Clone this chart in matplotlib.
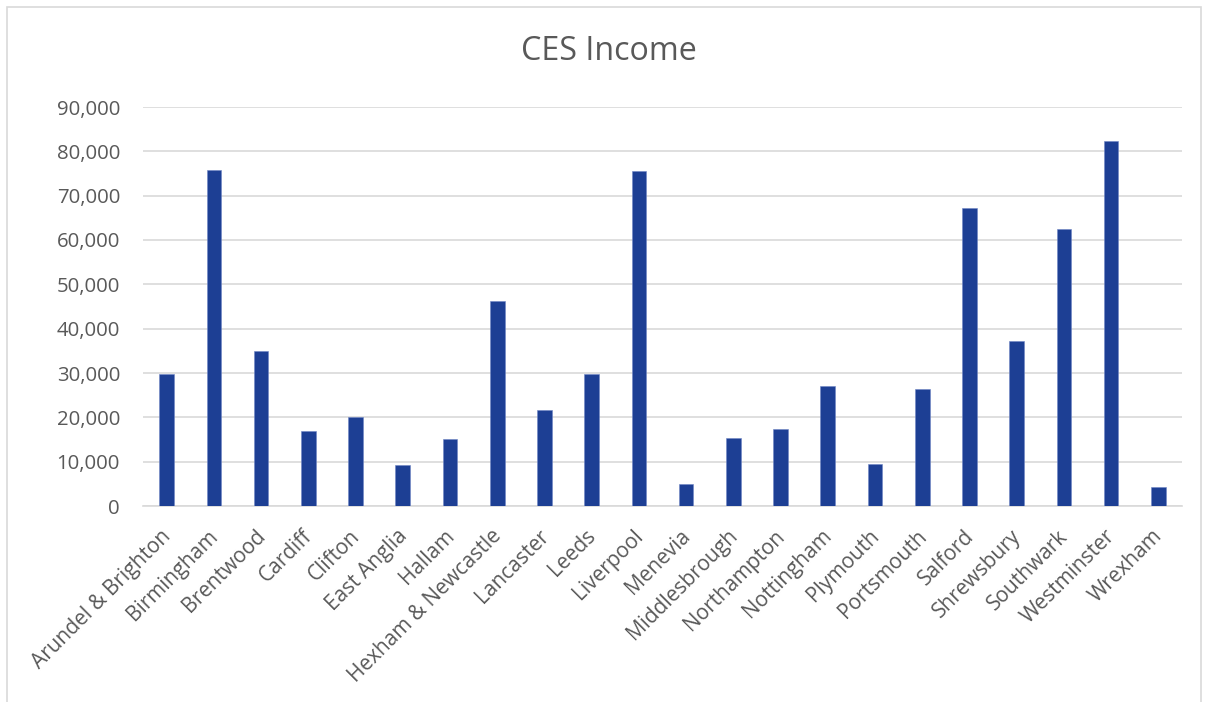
import matplotlib.pyplot as plt
from matplotlib.patches import Rectangle
from matplotlib.ticker import FuncFormatter

dioceses = ['Arundel & Brighton', 'Birmingham', 'Brentwood', 'Cardiff', 'Clifton',
            'East Anglia', 'Hallam', 'Hexham & Newcastle', 'Lancaster', 'Leeds',
            'Liverpool', 'Menevia', 'Middlesbrough', 'Northampton', 'Nottingham',
            'Plymouth', 'Portsmouth', 'Salford', 'Shrewsbury', 'Southwark',
            'Westminster', 'Wrexham']
income = [29700, 75800, 35000, 17000, 20150,
          9200, 15200, 46300, 21700, 29850,
          75650, 4900, 15300, 17350, 27050,
          9400, 26300, 67250, 37250, 62400,
          82250, 4300]
yticks = [0, 10000, 20000, 30000, 40000, 50000, 60000, 70000, 80000, 90000]

plt.rcParams['font.family'] = ['Open Sans', 'DejaVu Sans']
grey = '#595959'

fig = plt.figure(figsize=(12.05, 7.02), dpi=100)
ax = fig.add_axes([143/1205, 1 - 506/702, (1182 - 143)/1205, (506 - 107)/702])

x = range(len(dioceses))
ax.bar(x, income, width=0.31, color='#1D3F94', edgecolor='#6F86C4', linewidth=0.4, zorder=3)

ax.set_xlim(-0.5, len(dioceses) - 0.5)
ax.set_ylim(0, 90000)
ax.set_yticks(yticks)
ax.yaxis.set_major_formatter(FuncFormatter(lambda v, p: f'{int(v):,}'))
ax.set_xticks(list(x))
ax.set_xticklabels([])

# category labels, rotated, baseline end just right of each tick
for i, name in enumerate(dioceses):
    ax.annotate(name, xy=(i, 0), xytext=(5, -31), textcoords='offset pixels',
                rotation=45, ha='right', va='baseline', rotation_mode='anchor',
                fontsize=15, color=grey, annotation_clip=False)

ax.grid(axis='y', color='#D9D9D9', linewidth=1.2, zorder=0)
for s in ['top', 'right', 'left']:
    ax.spines[s].set_visible(False)
ax.spines['bottom'].set_color('#D9D9D9')
ax.spines['bottom'].set_linewidth(1.2)
ax.tick_params(axis='both', length=0, colors=grey)
ax.tick_params(axis='y', pad=16.5, labelsize=14.7)

fig.text(609/1205, 1 - 59.5/702, 'CES Income', ha='center', va='baseline',
         fontsize=23.2, color=grey)

fig.patches.append(Rectangle((7/1205, -0.01), (1201 - 7)/1205, 1.01 - 7/702,
                             transform=fig.transFigure, fill=False,
                             edgecolor='#D9D9D9', linewidth=1.2))

fig.savefig('out.png', dpi=100)
